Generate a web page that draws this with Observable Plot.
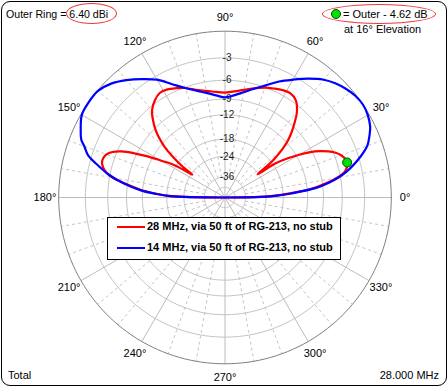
<!DOCTYPE html>
<html><head><meta charset="utf-8">
<script src="https://cdn.jsdelivr.net/npm/d3@7"></script>
<script src="https://cdn.jsdelivr.net/npm/@observablehq/plot@0.6"></script>
<style>
body{margin:0;background:#fff;}
#wrap{position:relative;width:448px;height:387px;font-family:"Liberation Sans",Arial,sans-serif;font-size:11px;color:#000;overflow:hidden;}
#wrap svg{position:absolute;left:0;top:0;}
.t{position:absolute;white-space:nowrap;line-height:14px;}
.ell{position:absolute;border:1px solid #e83c3c;border-radius:50%;box-sizing:border-box;}
#frame{position:absolute;left:1px;top:1px;width:446px;height:385px;border:1px solid #000;border-radius:9px;box-sizing:border-box;pointer-events:none;}
#legend{position:absolute;left:107px;top:217px;width:234px;height:43px;border:1px solid #000;background:#fff;box-sizing:border-box;font-weight:bold;}
.sw{position:absolute;left:9px;width:28px;height:2px;}
</style></head>
<body>
<div id="wrap"></div>
<script>
// Elevation angle (deg) and gain relative to outer ring (dB), 14 MHz trace
const blueAngles = [0,1,2,3.5,6,8,10,12,14,16,18,20,23,26,30,34,38,42,46,50,55,60,65,70,75,80,85,90,95,100,105,110,115,120,125,130,135,140,145,150,155,158,160,163,166,169,172,175,177,178.5,180];
const blueDb = [-99,-26,-20,-15.8,-10.2,-8.0,-6.3,-5.0,-4.0,-3.1,-2.3,-1.6,-1.0,-0.5,-0.15,0,-0.1,-0.4,-0.8,-1.35,-2.35,-3.45,-4.5,-5.7,-6.7,-7.6,-8.3,-8.7,-8.3,-7.7,-7.0,-6.1,-4.9,-3.45,-2.4,-1.4,-0.55,-0.05,0,-0.1,-0.75,-1.2,-1.8,-2.6,-4.2,-5.9,-8.3,-11.5,-15,-19,-99];
// 28 MHz trace
const redAngles = [0,1,2,3.5,6,8,10,12,14,16,18,20,22,24,26,28,30,32,34,35.5,37,38,40,42,44,47,50,54,58,62,66,70,76,83,90,97,104,110,114,118,122,126,130,133,136,138,140,142,144,145,146.5,148,150,152,154,156,158,160,162,164,166,168,170,172,175,177,178.5,180];
const redDb = [-99,-27,-21,-16.5,-10.8,-8.4,-6.5,-5.3,-4.8,-4.62,-4.75,-5.1,-5.7,-6.6,-7.8,-9.3,-11.4,-13.9,-17,-24.5,-19,-16.7,-13.8,-11.7,-10.2,-8.4,-6.8,-5.55,-5.18,-5.35,-5.7,-6.05,-6.75,-7.5,-7.9,-7.6,-7.0,-6.1,-5.65,-5.25,-5.15,-5.65,-6.55,-7.8,-9.4,-10.9,-12.8,-15.8,-20,-24.5,-20,-16.5,-14,-11,-8.6,-6.6,-5.4,-4.75,-4.5,-4.5,-4.8,-5.4,-6.5,-8.5,-11.8,-15.5,-19.5,-99];
// cursor marker
const markerAngle = [16];
const markerDb = [-4.62];
// grid
const ringDb = [-3,-6,-9,-12,-18,-24,-36,-48];
const ringLabelDb = [-3,-6,-9,-12,-18,-24,-36];
const angleLabels = [0,30,60,90,120,150,180,210,240,270,300,330];
const spokeAngles = [0,10,20,30,40,50,60,70,80,90,100,110,120,130,140,150,160,170,180,190,200,210,220,230,240,250,260,270,280,290,300,310,320,330,340,350];

const arrl = db => Math.pow(0.89, -db / 2);
const rad = a => a * Math.PI / 180;
const px = (a, r) => r * Math.cos(rad(a));
const py = (a, r) => r * Math.sin(rad(a));

const blue = blueAngles.map((a, i) => ({a, db: blueDb[i]}));
const red = redAngles.map((a, i) => ({a, db: redDb[i]}));
const marker = markerAngle.map((a, i) => ({a, db: markerDb[i]}));
const circ = d3.range(0, 361, 2);
const rings = ringDb.flatMap(db => circ.map(t => ({db, t})));
const outer = circ.map(t => ({t}));
const r0 = arrl(-36);

const chart = Plot.plot({
  width: 448, height: 387,
  marginLeft: 58.2, marginRight: 57.2, marginTop: 30.7, marginBottom: 23.7,
  x: {domain: [-1, 1], axis: null},
  y: {domain: [-1, 1], axis: null},
  style: {background: "transparent", fontFamily: "'Liberation Sans', Arial, sans-serif", fontSize: "11px", color: "#000"},
  marks: [
    Plot.line(rings, {x: d => px(d.t, arrl(d.db)), y: d => py(d.t, arrl(d.db)), z: "db", stroke: "#c4c4c4", strokeWidth: 1}),
    Plot.link(spokeAngles.filter(a => a % 30 !== 0), {x1: a => px(a, r0), y1: a => py(a, r0), x2: a => px(a, 1), y2: a => py(a, 1), stroke: "#c4c4c4", strokeDasharray: "3,3"}),
    Plot.link(spokeAngles.filter(a => a % 30 === 0), {x1: a => 0, y1: a => 0, x2: a => px(a, 1), y2: a => py(a, 1), stroke: "#bcbcbc"}),
    Plot.line(outer, {x: d => px(d.t, 1), y: d => py(d.t, 1), stroke: "#808080", strokeWidth: 1}),
    Plot.text(ringLabelDb, {x: d => 0, y: d => arrl(d), text: d => String(d), dx: 2, fill: "#222", fontSize: 10}),
    Plot.text(angleLabels, {x: a => px(a, 1.083), y: a => py(a, 1.083), text: a => a + "°", fill: "#000", fontSize: 11}),
    Plot.line(red, {x: d => px(d.a, arrl(d.db)), y: d => py(d.a, arrl(d.db)), stroke: "#ff0000", strokeWidth: 2.2, curve: "catmull-rom"}),
    Plot.line(blue, {x: d => px(d.a, arrl(d.db)), y: d => py(d.a, arrl(d.db)), stroke: "#0000ff", strokeWidth: 2.2, curve: "catmull-rom"}),
    Plot.dot(marker, {x: d => px(d.a, arrl(d.db)), y: d => py(d.a, arrl(d.db)), r: 4.5, fill: "#00e000", stroke: "#005000", strokeWidth: 1})
  ]
});
const wrap = document.getElementById("wrap");
wrap.appendChild(chart);
wrap.insertAdjacentHTML("beforeend", `
<div class="t" style="left:6px;top:7px;font-size:10.6px">Outer Ring = 6.40 dBi</div>
<div class="ell" style="left:66px;top:3px;width:51px;height:21px"></div>
<div style="position:absolute;left:331px;top:9px;width:10px;height:10px;border-radius:50%;background:#00e000;border:1px solid #005000;box-sizing:border-box"></div>
<div class="t" style="left:343px;top:7px">= Outer - 4.62 dB</div>
<div class="t" style="left:344px;top:22px">at 16° Elevation</div>
<div class="ell" style="left:322px;top:4px;width:114px;height:20px"></div>
<div class="t" style="left:8px;top:368px">Total</div>
<div class="t" style="right:9px;top:368px">28.000 MHz</div>
<div id="legend">
  <div class="sw" style="top:8px;background:#ff0000"></div>
  <div class="t" style="left:39px;top:1px">28 MHz, via 50 ft of RG-213, no stub</div>
  <div class="sw" style="top:29px;background:#0000ff"></div>
  <div class="t" style="left:39px;top:22px">14 MHz, via 50 ft of RG-213, no stub</div>
</div>
<div id="frame"></div>
`);
</script>
</body></html>
